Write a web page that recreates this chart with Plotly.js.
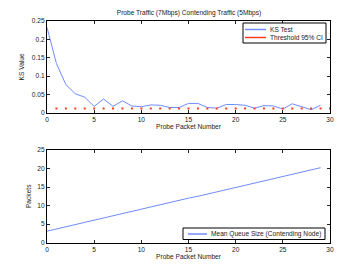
<!DOCTYPE html>
<html><head><meta charset="utf-8">
<script src="https://cdn.plot.ly/plotly-3.0.1.min.js"></script>
<style>html,body{margin:0;padding:0;background:#fff}#c{width:363px;height:273px}</style>
</head><body><div id="c"></div>
<script>
var packetNum = [0,1,2,3,4,5,6,7,8,9,10,11,12,13,14,15,16,17,18,19,20,21,22,23,24,25,26,27,28,29];
var ksValue = [0.232,0.134,0.077,0.052,0.043,0.018,0.038,0.018,0.033,0.019,0.017,0.022,0.021,0.015,0.015,0.026,0.026,0.015,0.013,0.023,0.023,0.021,0.013,0.020,0.019,0.011,0.025,0.016,0.009,0.021];
var thresholdX = [1,2,3,4,5,6,7,8,9,10,11,12,13,14,15,16,17,18,19,20,21,22,23,24,25,26,27,28,29,30];
var thresholdY = [0.012,0.012,0.012,0.012,0.012,0.012,0.012,0.012,0.012,0.012,0.012,0.012,0.012,0.012,0.012,0.012,0.012,0.012,0.012,0.012,0.012,0.012,0.012,0.012,0.012,0.012,0.012,0.012,0.012,0.012];
var queueSize = [3.1,3.7,4.3,4.9,5.5,6.1,6.6,7.2,7.8,8.4,9.0,9.6,10.2,10.8,11.4,12.0,12.5,13.1,13.7,14.3,14.9,15.5,16.1,16.7,17.3,17.9,18.4,19.0,19.6,20.2];
var legendTop = ['KS Test', 'Threshold 95% CI'];
var legendBottom = ['Mean Queue Size (Contending Node)'];

var W = 363, H = 273, L = 47, R = 33;
function px(x){return (x - L) / (W - L - R);}
function py(y){return 1 - y / H;}

var blue = '#6f8cff', red = '#ff3a1f', txt = '#222';
var FS = 6.6;
var traces = [
  {x: packetNum, y: ksValue, mode: 'lines', name: legendTop[0], line: {color: blue, width: 1}, xaxis: 'x', yaxis: 'y'},
  {x: thresholdX, y: thresholdY, mode: 'markers', name: legendTop[1], marker: {color: red, size: 2, symbol: 'square'}, xaxis: 'x', yaxis: 'y'},
  {x: packetNum, y: queueSize, mode: 'lines', name: legendBottom[0], line: {color: blue, width: 1}, xaxis: 'x2', yaxis: 'y2'}
];
var ax = {ticks: 'inside', ticklen: 3, mirror: 'ticks', showline: true, linecolor: '#000', linewidth: 1, showgrid: false, zeroline: false, tickfont: {size: FS, color: txt}, color: txt};
function A(o){return Object.assign({}, ax, o);}
var font = {family: 'Liberation Sans, Arial, sans-serif', size: FS, color: txt};

var shapes = [
  {type: 'rect', xref: 'paper', yref: 'paper', x0: px(243), x1: px(326), y0: py(43), y1: py(23), line: {color: '#000', width: 1}, fillcolor: '#fff', layer: 'above'},
  {type: 'line', xref: 'paper', yref: 'paper', x0: px(245), x1: px(266), y0: py(29.5), y1: py(29.5), line: {color: blue, width: 1.5}, layer: 'above'},
  {type: 'line', xref: 'paper', yref: 'paper', x0: px(245), x1: px(266), y0: py(37.5), y1: py(37.5), line: {color: red, width: 1.5}, layer: 'above'},
  {type: 'rect', xref: 'paper', yref: 'paper', x0: px(183), x1: px(325), y0: py(239.5), y1: py(228), line: {color: '#000', width: 1}, fillcolor: '#fff', layer: 'above'},
  {type: 'line', xref: 'paper', yref: 'paper', x0: px(188), x1: px(207), y0: py(234), y1: py(234), line: {color: blue, width: 1.5}, layer: 'above'}
];
var annotations = [
  {xref: 'paper', yref: 'paper', x: px(267.5), y: py(29.5), text: legendTop[0], showarrow: false, xanchor: 'left', yanchor: 'middle', font: {size: FS, color: txt}},
  {xref: 'paper', yref: 'paper', x: px(267.5), y: py(37.5), text: legendTop[1], showarrow: false, xanchor: 'left', yanchor: 'middle', font: {size: FS, color: txt}},
  {xref: 'paper', yref: 'paper', x: px(209), y: py(234), text: legendBottom[0], showarrow: false, xanchor: 'left', yanchor: 'middle', font: {size: FS, color: txt}}
];
var layout = {
  width: W, height: H,
  margin: {l: L, r: R, t: 0, b: 0},
  paper_bgcolor: '#fff', plot_bgcolor: '#fff',
  font: font, showlegend: false,
  shapes: shapes, annotations: annotations,
  title: {text: 'Probe Traffic (7Mbps) Contending Traffic (5Mbps)', font: {size: FS, color: txt}, xref: 'container', x: 189 / W, xanchor: 'center', yref: 'container', y: 1 - 13 / H, yanchor: 'middle'},
  xaxis: A({domain: [0,1], range: [0,30], tickvals: [0,5,10,15,20,25,30], anchor: 'y', title: {text: 'Probe Packet Number', font: {size: FS}, standoff: 2}}),
  yaxis: A({domain: [0.586,0.924], range: [0,0.25], tickvals: [0,0.05,0.1,0.15,0.2,0.25], ticktext: ['0','0.05','0.1','0.15','0.2','0.25'], anchor: 'x', title: {text: 'KS Value', font: {size: FS}, standoff: 6}}),
  xaxis2: A({domain: [0,1], range: [0,30], tickvals: [0,5,10,15,20,25,30], anchor: 'y2', title: {text: 'Probe Packet Number', font: {size: FS}, standoff: 2}}),
  yaxis2: A({domain: [0.111,0.451], range: [0,25], tickvals: [0,5,10,15,20,25], anchor: 'x2', title: {text: 'Packets', font: {size: FS}, standoff: 5}})
};
Plotly.newPlot('c', traces, layout, {displayModeBar: false, staticPlot: true});
</script></body></html>
